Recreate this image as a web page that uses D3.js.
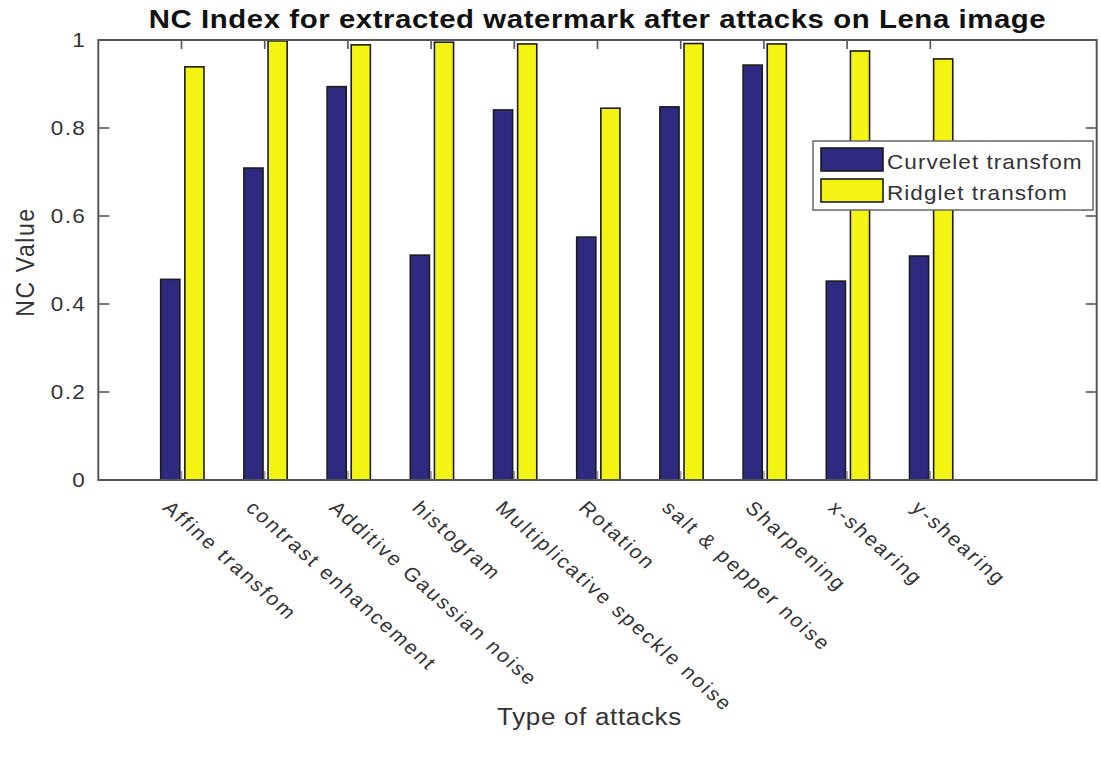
<!DOCTYPE html>
<html>
<head>
<meta charset="utf-8">
<script src="https://cdn.jsdelivr.net/npm/d3@7/dist/d3.min.js"></script>
<style>
  html, body { margin: 0; padding: 0; background: #fff; }
  svg { display: block; }
  text { font-family: "Liberation Sans", Arial, sans-serif; }
</style>
</head>
<body>
<svg id="chart" width="1101" height="759"></svg>
<script>
// Attack types along the x axis
const attacks = [
  "Affine transfom",
  "contrast enhancement",
  "Additive Gaussian noise",
  "histogram",
  "Multiplicative speckle noise",
  "Rotation",
  "salt & pepper noise",
  "Sharpening",
  "x-shearing",
  "y-shearing"
];

// NC values of the extracted watermark
const curveletNC = [0.456, 0.709, 0.894, 0.511, 0.841, 0.552, 0.848, 0.943, 0.452, 0.509];
const ridgletNC  = [0.939, 0.998, 0.989, 0.995, 0.991, 0.845, 0.992, 0.991, 0.975, 0.957];

const seriesNames = ["Curvelet transfom", "Ridglet transfom"];
const yTicks = [0, 0.2, 0.4, 0.6, 0.8, 1];
const yTickLabels = ["0", "0.2", "0.4", "0.6", "0.8", "1"];

const titleText = "NC Index for extracted watermark after attacks on Lena image";
const xLabel = "Type of attacks";
const yLabel = "NC Value";

// ---- layout ----
const plot = { left: 98.3, right: 1096.7, top: 40, bottom: 480 };
const SX = 1.13;                 // horizontal text stretch
const colors = ["#2e2a80", "#f4f414"];
const axisColor = "#555";
const textColor = "#333";

const svg = d3.select("#chart");

const x = d3.scaleLinear().domain([0, attacks.length + 2]).range([plot.left, plot.right]);
const y = d3.scaleLinear().domain([0, 1]).range([plot.bottom, plot.top]);

const barW = 0.23;                  // in category units
const offsets = [-0.135, 0.155];    // bar centre offsets from category position

const seriesData = [curveletNC, ridgletNC];

// bottom ticks sit under the bars
const bottomTicks = svg.append("g");
attacks.forEach((_, i) => {
  bottomTicks.append("line")
    .attr("x1", x(i + 1)).attr("x2", x(i + 1))
    .attr("y1", plot.bottom).attr("y2", plot.bottom - 9)
    .attr("stroke", "#999").attr("stroke-width", 1.5);
});

// bars
seriesData.forEach((vals, s) => {
  svg.append("g")
    .selectAll("rect")
    .data(vals)
    .join("rect")
    .attr("x", (d, i) => x(i + 1 + offsets[s] - barW / 2))
    .attr("width", x(barW) - x(0))
    .attr("y", d => y(d))
    .attr("height", d => y(0) - y(d))
    .attr("fill", colors[s])
    .attr("stroke", "#1c1c1c")
    .attr("stroke-width", 1.6);
});

// axes box
const axes = svg.append("g");
axes.append("rect")
  .attr("x", plot.left).attr("y", plot.top)
  .attr("width", plot.right - plot.left).attr("height", plot.bottom - plot.top)
  .attr("fill", "none").attr("stroke", axisColor).attr("stroke-width", 2);

// y ticks (inward, both sides)
yTicks.forEach((t, i) => {
  axes.append("line")
    .attr("x1", plot.left).attr("x2", plot.left + 11)
    .attr("y1", y(t)).attr("y2", y(t))
    .attr("stroke", axisColor).attr("stroke-width", 1.6);
  axes.append("line")
    .attr("x1", plot.right).attr("x2", plot.right - 11)
    .attr("y1", y(t)).attr("y2", y(t))
    .attr("stroke", axisColor).attr("stroke-width", 1.6);
  axes.append("text")
    .attr("transform", `translate(${plot.left - 12},${y(t) + 7}) scale(${SX},1)`)
    .attr("text-anchor", "end")
    .attr("font-size", 20)
    .attr("letter-spacing", 1.2)
    .attr("fill", textColor)
    .text(yTickLabels[i]);
});

// top ticks
attacks.forEach((_, i) => {
  axes.append("line")
    .attr("x1", x(i + 1)).attr("x2", x(i + 1))
    .attr("y1", plot.top).attr("y2", plot.top + 9)
    .attr("stroke", axisColor).attr("stroke-width", 1.6);
});

// rotated category labels
attacks.forEach((name, i) => {
  svg.append("text")
    .attr("transform", `translate(${x(i + 1) - 20},${plot.bottom + 29}) scale(${SX},1) rotate(45)`)
    .attr("font-size", 19)
    .attr("letter-spacing", 2.1)
    .attr("fill", textColor)
    .text(name);
});

// title
svg.append("text")
  .attr("transform", `translate(${(plot.left + plot.right) / 2},28) scale(${SX},1)`)
  .attr("text-anchor", "middle")
  .attr("font-size", 26)
  .attr("font-weight", "bold")
  .attr("letter-spacing", 0.5)
  .attr("fill", "#111")
  .text(titleText);

// axis labels
svg.append("text")
  .attr("transform", `translate(${(plot.left + plot.right) / 2 - 8},725) scale(${SX},1)`)
  .attr("text-anchor", "middle")
  .attr("font-size", 23)
  .attr("letter-spacing", 0.6)
  .attr("fill", textColor)
  .text(xLabel);

svg.append("text")
  .attr("transform", `translate(34,262) scale(${SX},1) rotate(-90)`)
  .attr("text-anchor", "middle")
  .attr("font-size", 23)
  .attr("letter-spacing", 1.6)
  .attr("fill", textColor)
  .text(yLabel);

// legend
const legend = svg.append("g");
legend.append("rect")
  .attr("x", 813).attr("y", 141).attr("width", 280).attr("height", 69)
  .attr("fill", "#fff").attr("stroke", "#666").attr("stroke-width", 1.5);
seriesNames.forEach((name, s) => {
  const top = 148 + s * 31;
  legend.append("rect")
    .attr("x", 821).attr("y", top).attr("width", 62).attr("height", 23)
    .attr("fill", colors[s]).attr("stroke", "#1c1c1c").attr("stroke-width", 1.6);
  legend.append("text")
    .attr("transform", `translate(887,${top + 21}) scale(${SX},1)`)
    .attr("font-size", 20)
    .attr("letter-spacing", 0.9)
    .attr("fill", textColor)
    .text(name);
});
</script>
</body>
</html>
